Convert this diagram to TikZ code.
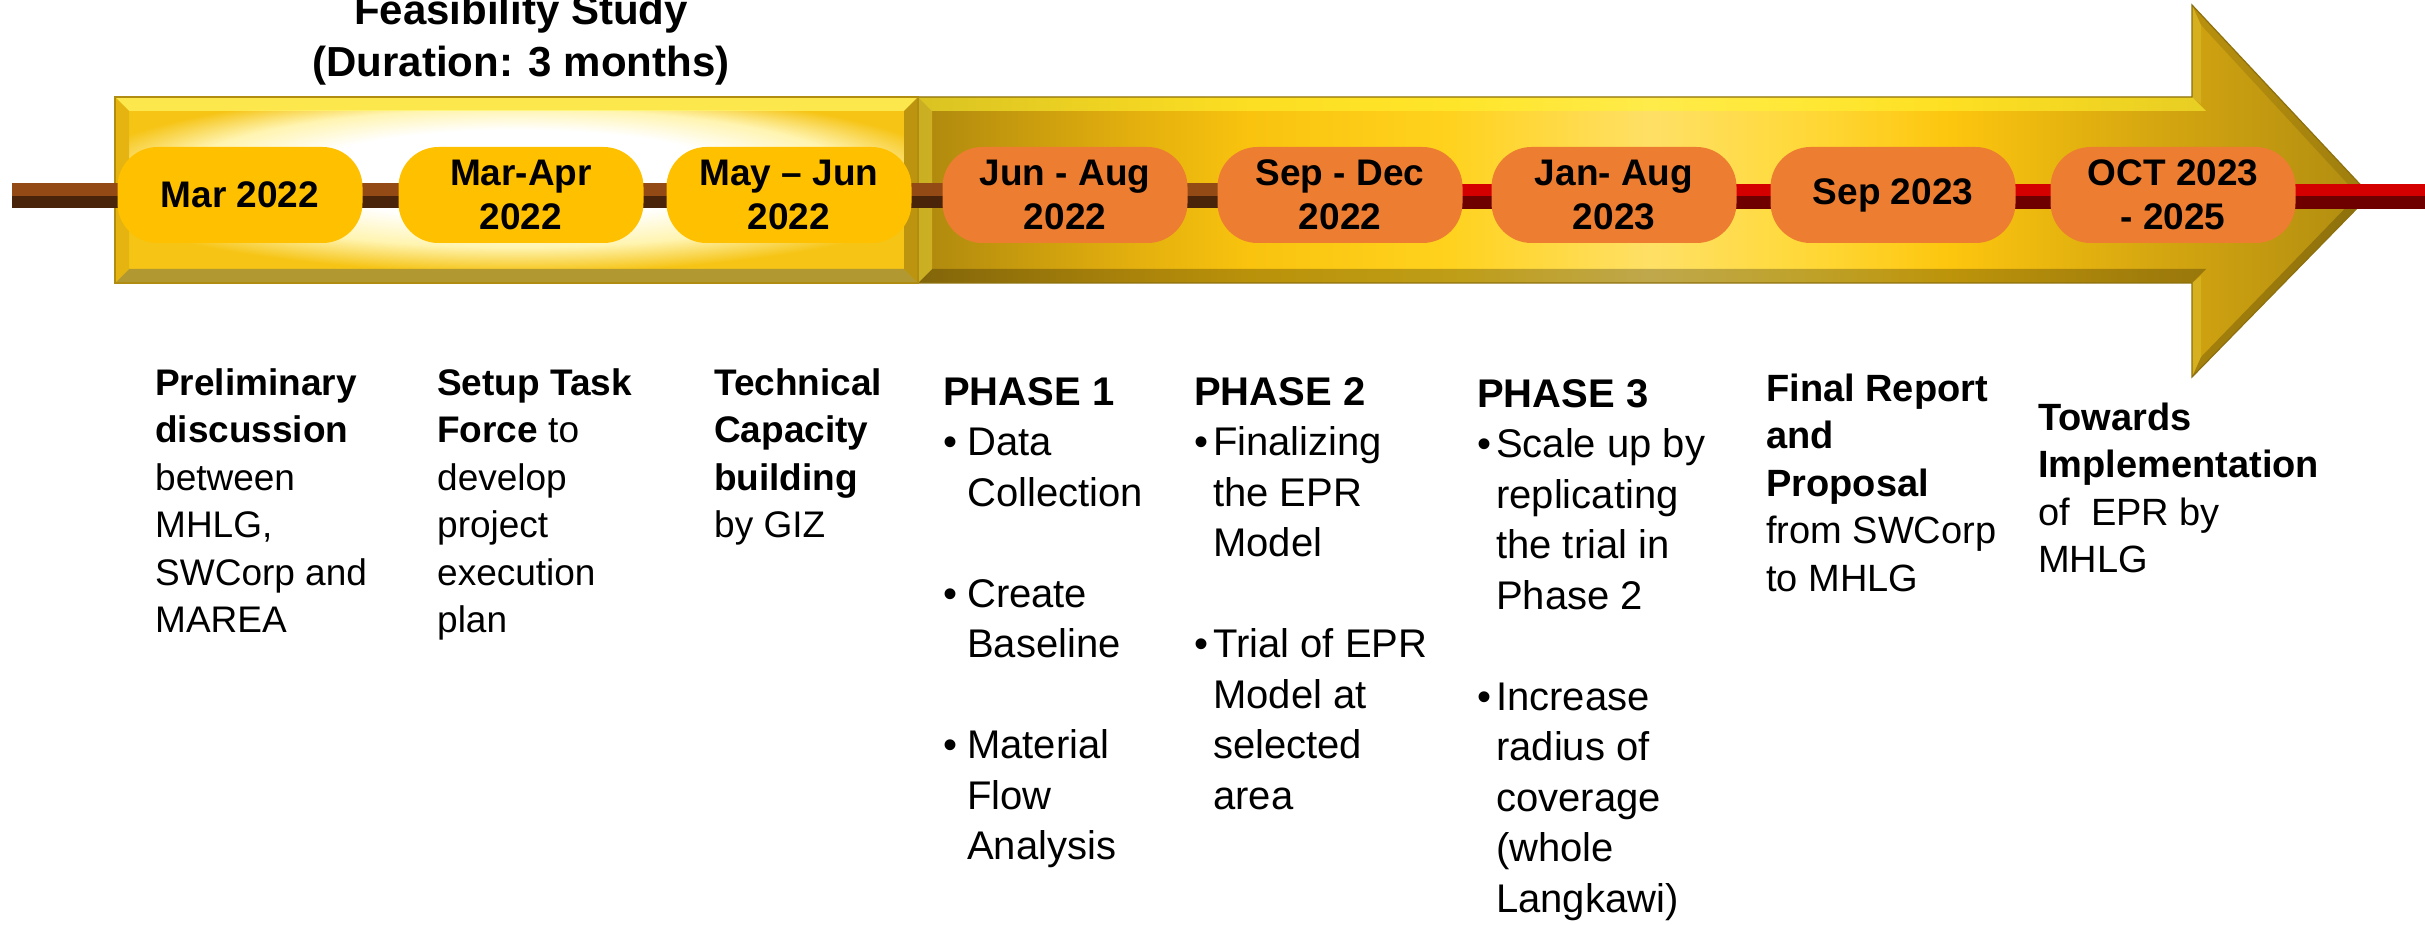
\documentclass[tikz,border=0pt]{standalone}
\usepackage{fontspec}
\setmainfont{Liberation Sans}
\definecolor{pillgold}{HTML}{FFC000}
\definecolor{pillorange}{HTML}{ED7D31}
\definecolor{browntop}{HTML}{934A14}
\definecolor{brownbot}{HTML}{4A240A}
\definecolor{redtop}{HTML}{D40000}
\definecolor{redbot}{HTML}{6E0000}
\definecolor{a0}{HTML}{AE880E}
\definecolor{a1}{HTML}{DCAA0E}
\definecolor{a2}{HTML}{F9C30E}
\definecolor{a3}{HTML}{FFD21E}
\definecolor{a4}{HTML}{FFE066}
\definecolor{a5}{HTML}{FFD93A}
\definecolor{a6}{HTML}{FDC60E}
\definecolor{a7}{HTML}{D6A710}
\definecolor{a8}{HTML}{B08C10}
\definecolor{feasgold}{HTML}{F6C415}
\definecolor{feaspale}{HTML}{FFF4B0}
\pgfdeclarehorizontalshading{arrowsh}{100bp}{color(0bp)=(a0); color(25bp)=(a0); color(31.3bp)=(a1); color(36.4bp)=(a2); color(43.3bp)=(a3); color(50.2bp)=(a4); color(55.4bp)=(a5); color(60.5bp)=(a6); color(67.4bp)=(a7); color(75bp)=(a8); color(100bp)=(a8)}
\pgfdeclareradialshading{feassh}{\pgfpoint{0bp}{7bp}}{color(0bp)=(white); color(14bp)=(white); color(22bp)=(feaspale); color(29bp)=(feasgold); color(50bp)=(feasgold)}
\newcommand{\topstrut}{\rule{0pt}{1em}}
\begin{document}
\begin{tikzpicture}[x=1pt,y=-1pt,
  pill/.style={rounded corners=40pt, minimum width=245pt, minimum height=96pt, inner sep=0pt, align=center, font=\bfseries\fontsize{37}{44}\selectfont},
  desc/.style={anchor=north west, inner sep=0pt, align=left, font=\fontsize{37}{47.5}\selectfont},
  descb/.style={anchor=north west, inner sep=0pt, align=left, font=\fontsize{38}{47.5}\selectfont},
  phase/.style={anchor=north west, inner sep=0pt, align=left, font=\fontsize{40}{50.5}\selectfont}]
\useasboundingbox (0,0) rectangle (2425,925);
% ---- big arrow ----
\shade[shading=arrowsh] (918,97) -- (2192,97) -- (2192,5) -- (2370,195) -- (2192,377) -- (2192,283) -- (918,283) -- cycle;
\fill[yellow!80!white, opacity=0.55] (918,97) -- (2192,97) -- (2206,111) -- (932,111) -- cycle;
\fill[black, opacity=0.25] (918,283) -- (2192,283) -- (2206,269) -- (932,269) -- cycle;
\fill[yellow!70!white, opacity=0.35] (918,97) -- (932,111) -- (932,269) -- (918,283) -- cycle;
\fill[yellow!60!white, opacity=0.18] (2192,5) -- (2201,25) -- (2201,104) -- (2192,97) -- cycle;
\fill[black, opacity=0.10] (2192,5) -- (2370,195) -- (2358,195) -- (2201,25) -- cycle;
\fill[black, opacity=0.20] (2192,377) -- (2370,195) -- (2358,195) -- (2201,357) -- cycle;
\fill[yellow!60!white, opacity=0.18] (2192,377) -- (2201,357) -- (2201,276) -- (2192,283) -- cycle;
\draw[a8!80!black, line width=1.2pt, line join=miter] (918,97) -- (2192,97) -- (2192,5) -- (2370,195) -- (2192,377) -- (2192,283) -- (918,283);
% ---- feasibility box ----
\fill[feasgold] (115,97) rectangle (918,283);
\shade[shading=feassh] (129,111) rectangle (904,269);
\fill[yellow!60!white, opacity=0.7] (115,97) -- (918,97) -- (904,111) -- (129,111) -- cycle;
\fill[black!60!yellow, opacity=0.55] (115,283) -- (918,283) -- (904,269) -- (129,269) -- cycle;
\fill[a1, opacity=0.6] (115,97) -- (129,111) -- (129,269) -- (115,283) -- cycle;
\fill[a0, opacity=0.8] (918,97) -- (904,111) -- (904,269) -- (918,283) -- cycle;
\draw[a8, line width=1.2pt] (115,97) rectangle (918,283);
% ---- timeline bar ----
\fill[browntop] (12,183) rectangle (1459,196);
\fill[brownbot] (12,196) rectangle (1459,208);
\fill[redtop] (1459,184) rectangle (2425,196);
\fill[redbot] (1459,196) rectangle (2425,209);
% ---- title ----
\node[font=\bfseries\fontsize{42}{52}\selectfont, align=center, anchor=base, inner sep=0pt] (title) at (521,77) {Feasibility Study\\(Duration: 3 months)};
% ---- date pills ----
\node[pill, fill=pillgold] (d1) at (240,195) {Mar 2022};
\node[pill, fill=pillgold] (d2) at (521,195) {Mar-Apr\\2022};
\node[pill, fill=pillgold] (d3) at (789,195) {May – Jun\\2022};
\node[pill, fill=pillorange] (d4) at (1065,195) {Jun - Aug\\2022};
\node[pill, fill=pillorange] (d5) at (1340,195) {Sep - Dec\\2022};
\node[pill, fill=pillorange] (d6) at (1614,195) {Jan- Aug\\2023};
\node[pill, fill=pillorange] (d7) at (1893,195) {Sep 2023};
\node[pill, fill=pillorange] (d8) at (2173,195) {OCT 2023\\- 2025};
% ---- descriptions (top = first baseline - 1em) ----
\node[desc] (t1) at (155,358) {\topstrut\textbf{Preliminary}\\\textbf{discussion}\\between\\MHLG,\\SWCorp and\\MAREA};
\node[desc] (t2) at (437,358) {\topstrut\textbf{Setup Task}\\\textbf{Force} to\\develop\\project\\execution\\plan};
\node[desc] (t3) at (714,358) {\topstrut\textbf{Technical}\\\textbf{Capacity}\\\textbf{building}\\by GIZ};
\node[phase] (t4) at (943,365) {\topstrut\textbf{PHASE 1}\\\makebox[24pt][l]{•}Data\\\hspace*{24pt}Collection\\[50.5pt]\makebox[24pt][l]{•}Create\\\hspace*{24pt}Baseline\\[50.5pt]\makebox[24pt][l]{•}Material\\\hspace*{24pt}Flow\\\hspace*{24pt}Analysis};
\node[phase] (t5) at (1194,365) {\topstrut\textbf{PHASE 2}\\\makebox[19pt][l]{•}Finalizing\\\hspace*{19pt}the EPR\\\hspace*{19pt}Model\\[50.5pt]\makebox[19pt][l]{•}Trial of EPR\\\hspace*{19pt}Model at\\\hspace*{19pt}selected\\\hspace*{19pt}area};
\node[phase] (t6) at (1477,367) {\topstrut\textbf{PHASE 3}\\\makebox[19pt][l]{•}Scale up by\\\hspace*{19pt}replicating\\\hspace*{19pt}the trial in\\\hspace*{19pt}Phase 2\\[50.5pt]\makebox[19pt][l]{•}Increase\\\hspace*{19pt}radius of\\\hspace*{19pt}coverage\\\hspace*{19pt}(whole\\\hspace*{19pt}Langkawi)};
\node[descb] (t7) at (1766,363) {\topstrut\textbf{Final Report}\\\textbf{and}\\\textbf{Proposal}\\from SWCorp\\to MHLG};
\node[descb] (t8) at (2038,392) {\topstrut\textbf{Towards}\\\textbf{Implementation}\\of\ \ EPR by\\MHLG};
\end{tikzpicture}
\end{document}
